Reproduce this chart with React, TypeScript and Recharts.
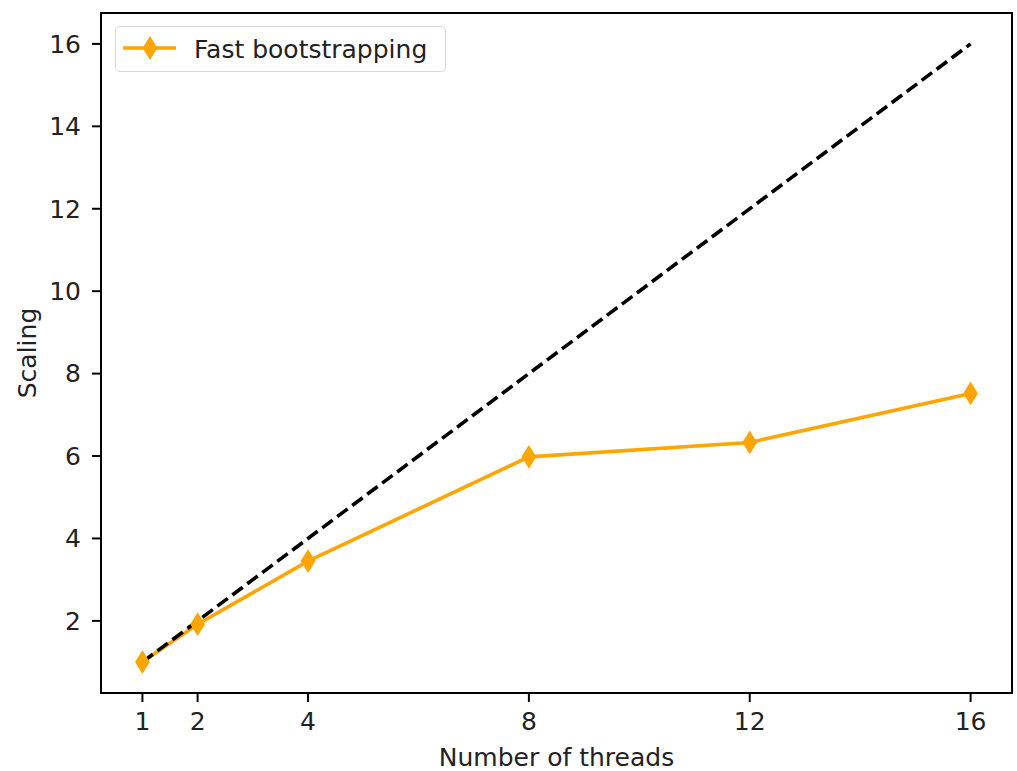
import { LineChart, Line, XAxis, YAxis, ReferenceArea } from 'recharts';

const threads = [1, 2, 4, 8, 12, 16];
const fastScaling = [1.0, 1.92, 3.45, 5.98, 6.33, 7.52];
const idealThreads = [1, 16];
const idealScaling = [1, 16];

const xTicks = [1, 2, 4, 8, 12, 16];
const yTicks = [2, 4, 6, 8, 10, 12, 14, 16];

const ORANGE = '#FFA500';
const FONT = '"DejaVu Sans", sans-serif';
const FS = 25;

const fastData = threads.map((t, i) => ({ t, y: fastScaling[i] }));
const idealData = idealThreads.map((t, i) => ({ t, y: idealScaling[i] }));

const Diamond = (props: any) => {
  const { cx, cy, index } = props;
  if (cx == null || cy == null) return null;
  const hw = 6.5;
  const hh = 10.5;
  return (
    <polygon
      key={`d-${index}`}
      points={`${cx},${cy - hh} ${cx + hw},${cy} ${cx},${cy + hh} ${cx - hw},${cy}`}
      fill={ORANGE}
      stroke={ORANGE}
      strokeWidth={1.5}
    />
  );
};

// matplotlib-style legend box, upper left inside the axes
const LegendBox = () => (
  <div
    style={{
      position: 'absolute',
      left: 115,
      top: 26,
      boxSizing: 'border-box',
      width: 331,
      height: 46,
      border: '1.5px solid #d6d6d6',
      borderRadius: 5,
      background: 'rgba(255,255,255,0.8)',
      display: 'flex',
      alignItems: 'center',
      fontFamily: FONT,
      fontSize: FS,
      color: '#222',
    }}
  >
    <svg width={72} height={44} style={{ flex: 'none' }}>
      <line x1={7} y1={21} x2={60} y2={21} stroke={ORANGE} strokeWidth={3.6} />
      <polygon points="34,10.5 40.5,21 34,31.5 27.5,21" fill={ORANGE} stroke={ORANGE} strokeWidth={1.5} />
    </svg>
    <span style={{ marginLeft: 6, whiteSpace: 'nowrap' }}>Fast bootstrapping</span>
  </div>
);

const tickStyle = { fill: '#222', fontSize: FS, fontFamily: FONT };

export default function App() {
  return (
    <div style={{ position: 'absolute', left: 0, top: 0, width: 1017, height: 771, background: '#fff' }}>
      <LineChart width={1017} height={771} margin={{ top: 13, right: 5, left: 0, bottom: 0 }}>
        <XAxis
          dataKey="t"
          type="number"
          domain={[0.25, 16.75]}
          ticks={xTicks}
          allowDataOverflow
          height={78}
          tickSize={9}
          tickMargin={10}
          tick={tickStyle}
          axisLine={false}
          tickLine={{ stroke: '#000', strokeWidth: 2 }}
          label={{ value: 'Number of threads', position: 'insideBottom', offset: 5, style: { fill: '#222', fontSize: FS, fontFamily: FONT } }}
        />
        <YAxis
          type="number"
          domain={[0.25, 16.75]}
          ticks={yTicks}
          allowDataOverflow
          width={101}
          tickSize={9}
          tickMargin={11}
          tick={tickStyle}
          axisLine={false}
          tickLine={{ stroke: '#000', strokeWidth: 2 }}
          label={{ value: 'Scaling', angle: -90, position: 'insideLeft', offset: 27, style: { textAnchor: 'middle', fill: '#222', fontSize: FS, fontFamily: FONT } }}
        />
        <ReferenceArea
          x1={0.25}
          x2={16.75}
          y1={0.25}
          y2={16.75}
          fill="none"
          stroke="#000"
          strokeWidth={2}
        />
        <Line
          data={fastData}
          dataKey="y"
          name="Fast bootstrapping"
          stroke={ORANGE}
          strokeWidth={3.6}
          dot={<Diamond />}
          activeDot={false}
          isAnimationActive={false}
        />
        <Line
          data={idealData}
          dataKey="y"
          name="Ideal"
          stroke="#000"
          strokeWidth={3.6}
          strokeDasharray="13 5.7"
          dot={false}
          activeDot={false}
          isAnimationActive={false}
        />
      </LineChart>
      <LegendBox />
    </div>
  );
}
